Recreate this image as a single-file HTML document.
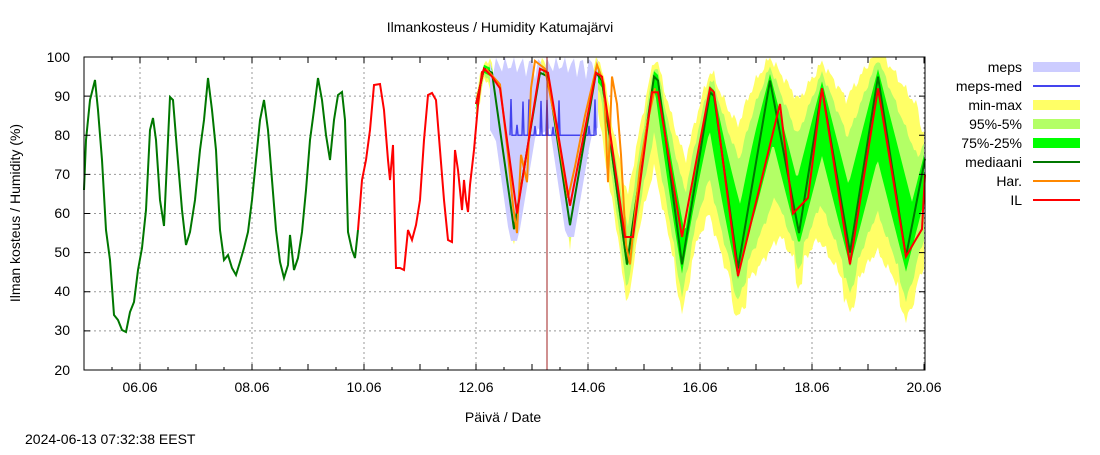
<!DOCTYPE html>
<html><head><meta charset="utf-8"><style>
body{margin:0;background:#fff;}
svg text{font-family:"Liberation Sans","DejaVu Sans",sans-serif;font-size:14px;fill:#000;}
</style></head><body>
<svg id="s" width="1100" height="450" xmlns="http://www.w3.org/2000/svg">
<rect width="1100" height="450" fill="#fff"/>
<g id="grid" stroke="#999" stroke-dasharray="2,3" stroke-width="1"></g>
<g id="bands"></g>
<g id="lines" fill="none" stroke-width="2"></g>
<line x1="547" y1="57" x2="547" y2="370" stroke="#a02020" stroke-width="1"/>
<rect x="84" y="57" width="841" height="313" fill="none" stroke="#000" stroke-width="1"/>
<g id="ticks" stroke="#000"></g>
<text x="500" y="32" text-anchor="middle">Ilmankosteus / Humidity  Katumajärvi</text>
<text x="503" y="422" text-anchor="middle">Päivä / Date</text>
<text x="20" y="213" text-anchor="middle" transform="rotate(-90 20 213)">Ilman kosteus / Humidity (%)</text>
<text x="25" y="444">2024-06-13 07:32:38 EEST</text>
<g text-anchor="end">
<text x="70" y="62">100</text><text x="70" y="101">90</text><text x="70" y="140">80</text><text x="70" y="179">70</text><text x="70" y="218">60</text><text x="70" y="257">50</text><text x="70" y="296">40</text><text x="70" y="335">30</text><text x="70" y="375">20</text>
</g>
<g text-anchor="middle">
<text x="140" y="392">06.06</text><text x="252" y="392">08.06</text><text x="364" y="392">10.06</text><text x="476" y="392">12.06</text><text x="588" y="392">14.06</text><text x="700" y="392">16.06</text><text x="812" y="392">18.06</text><text x="924" y="392">20.06</text>
</g>
<g text-anchor="end">
<text x="1022" y="72">meps</text><text x="1022" y="91">meps-med</text><text x="1022" y="110">min-max</text><text x="1022" y="129">95%-5%</text><text x="1022" y="148">75%-25%</text><text x="1022" y="167">mediaani</text><text x="1022" y="186">Har.</text><text x="1022" y="205">IL</text>
</g>
<rect x="1033" y="62" width="47" height="10" fill="#ccccff"/>
<line x1="1033" y1="86" x2="1080" y2="86" stroke="#4444ee" stroke-width="2"/>
<rect x="1033" y="100" width="47" height="10" fill="#ffff66"/>
<rect x="1033" y="119" width="47" height="10" fill="#b3ff66"/>
<rect x="1033" y="138" width="47" height="10" fill="#00ff00"/>
<line x1="1033" y1="162" x2="1080" y2="162" stroke="#007700" stroke-width="2"/>
<line x1="1033" y1="181" x2="1080" y2="181" stroke="#ff8800" stroke-width="2"/>
<line x1="1033" y1="200" x2="1080" y2="200" stroke="#ff0000" stroke-width="2"/>
</svg>
<script>
const NS="http://www.w3.org/2000/svg";
function el(p,t,a){const e=document.createElementNS(NS,t);for(const k in a)e.setAttribute(k,a[k]);document.getElementById(p).appendChild(e);return e;}
const Y=v=>57+(100-v)*3.9125;
for(let v=30;v<100;v+=10)el("grid","line",{x1:84,x2:925,y1:Y(v),y2:Y(v)});
for(let x=140;x<925;x+=112)el("grid","line",{x1:x,x2:x,y1:57,y2:370});
for(let v=20;v<=100;v+=10){el("ticks","line",{x1:84,x2:90,y1:Y(v),y2:Y(v)});el("ticks","line",{x1:919,x2:925,y1:Y(v),y2:Y(v)});}
for(let x=84;x<=925;x+=28){const l=((x-84)%56==0)?6:3;el("ticks","line",{x1:x,x2:x,y1:370,y2:370-l});el("ticks","line",{x1:x,x2:x,y1:57,y2:57+l});}
function pts(a){return a.map(p=>p[0].toFixed(1)+","+p[1].toFixed(1)).join(" ");}
const g=[[84,190],[86,140],[90,100],[95,80],[98,110],[102,160],[106,230],[110,260],[114,315],[118,320],[122,330],[126,332],[130,312],[134,302],[138,270],[142,248],[146,210],[150,130],[153,118],[156,140],[160,200],[164,226],[168,140],[170,97],[173,100],[177,150],[182,210],[186,245],[190,232],[195,200],[200,150],[204,120],[208,78],[212,110],[216,150],[220,230],[224,260],[228,255],[232,268],[236,275],[240,262],[244,248],[248,232],[252,200],[256,160],[260,120],[264,100],[268,130],[272,180],[276,230],[280,262],[284,278],[288,265],[290,235],[294,270],[298,258],[302,232],[306,190],[310,140],[314,110],[318,78],[322,100],[326,135],[330,160],[334,120],[338,95],[342,92],[345,120],[348,232],[352,250],[355,258],[358,230]];
el("lines","polyline",{points:pts(g),stroke:"#007700"});
const r=[[358,230],[362,180],[366,160],[370,130],[374,85],[380,84],[384,110],[388,160],[390,180],[393,145],[396,268],[400,268],[404,270],[408,230],[412,240],[416,225],[420,200],[424,140],[428,95],[432,93],[436,100],[440,150],[444,200],[448,240],[452,242],[455,150],[458,170],[462,210],[464,180],[466,200],[468,212],[470,185],[474,150],[478,105],[482,72],[486,69]];
el("lines","polyline",{points:pts(r),stroke:"#ff0000"});
const med=[[476,88],[484,97],[492,96],[514,56],[540,96],[548,95],[570,57],[596,96],[602,94],[627,47],[654,95],[658,94],[682,47],[710,91],[714,90],[738,46],[770,94],[799,55],[822,92],[850,50],[878,95],[906,49],[925,74]];
const il=[[476,88],[484,97],[492,95],[500,92],[517,60],[540,97],[548,96],[570,62],[596,96],[602,95],[625,54],[633,54],[652,91],[658,91],[682,54],[710,92],[714,91],[738,44],[780,88],[793,60],[808,64],[822,92],[850,47],[878,92],[906,49],[915,53],[922,56],[925,70]];
const har=[[486,97],[500,93],[508,75],[513,62],[517,55],[521,75],[527,68],[531,92],[535,99],[545,97],[555,84],[568,64],[575,72],[585,85],[597,98],[604,93],[608,68],[612,95],[617,88],[621,75],[626,52],[630,47],[633,55],[640,72],[648,84],[655,92]];
function interp(a,step){const o=[];for(let i=0;i<a.length-1;i++){const[x0,v0]=a[i],[x1,v1]=a[i+1];for(let x=x0;x<x1;x+=step){const t=(x-x0)/(x1-x0);o.push([x,v0+(v1-v0)*t]);}}o.push(a[a.length-1]);return o;}
const M=interp(med,2);
const mv=x=>{if(x<476)x=476;if(x>925)x=925;for(let i=0;i<M.length-1;i++){if(M[i+1][0]>=x){const t=(x-M[i][0])/(M[i+1][0]-M[i][0]||1);return M[i][1]+(M[i+1][1]-M[i][1])*t;}}return M[M.length-1][1];};
function band(kL,oh,ol,color,nz){const up=[],dn=[];for(let x=476;x<=925;x+=2){const f=(x-476)/449;const k=kL+2*Math.max(0,1-f*1.6);let u=-1e9,l=1e9;for(let d=-40;d<=40;d++){const v=mv(x+d);u=Math.max(u,v-k*Math.abs(d));l=Math.min(l,v+k*Math.abs(d));}const m=mv(x);const n=nz*Math.sin(x*0.9)*Math.sin(x*0.31);up.push([x,Y(Math.min(100,u+oh(f)+n))]);dn.push([x,Y(Math.max(20,l-ol(f,m)-n))]);}el("bands","polygon",{points:pts(up.concat(dn.reverse())),fill:color});}
band(0.4,f=>2+6*f,(f,m)=>3+8*f+(m<60?5*Math.min(1,f*2.5):0),"#ffff66",1.5);
band(0.65,f=>1+4*f,(f,m)=>2+6*f+(m<60?3*Math.min(1,f*2.5):0),"#b3ff66",1);
band(1.0,f=>1+1*f,(f,m)=>1+3*f,"#00ff00",0);
// meps
const mu=[],md=[];
for(let x=490;x<=600;x+=3){let l=1e9;for(let d=-4;d<=4;d++)l=Math.min(l,mv(x+d));mu.push([x,Y(94+6*Math.abs(Math.sin(x*0.37)))]);md.push([x,Y(Math.min(l-3,80+2*Math.abs(Math.sin(x*1.3))))]);}
el("bands","polygon",{points:pts(mu.concat(md.reverse())),fill:"#ccccff"});
const mb=[];for(let x=510;x<600;x+=6){if(x>560&&x<585)continue;mb.push([x,Y(80)]);mb.push([x+1,Y(82+8*Math.abs(Math.sin(x*0.7)))]);mb.push([x+2,Y(80)]);}
el("lines","polyline",{points:pts(mb),stroke:"#4444ee","stroke-width":1.5});
el("lines","polyline",{points:pts(M.map(([x,v])=>[x,Y(v)])),stroke:"#007700"});
el("lines","polyline",{points:pts(interp(har,2).map(([x,v])=>[x,Y(v)])),stroke:"#ff8800"});
el("lines","polyline",{points:pts(interp(il,2).map(([x,v])=>[x,Y(v)])),stroke:"#ff0000"});
</script>
</body></html>
